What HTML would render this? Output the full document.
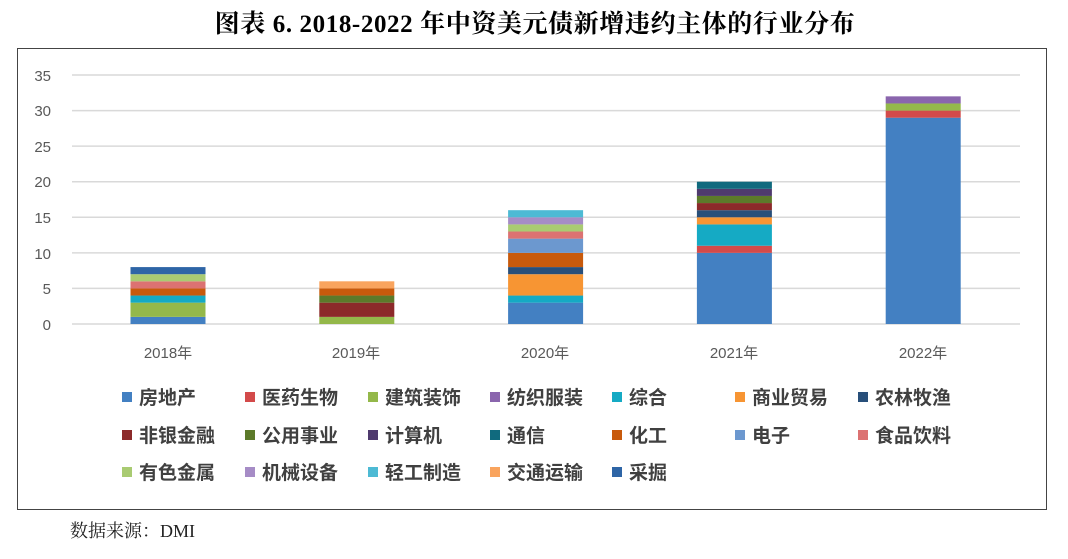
<!DOCTYPE html>
<html><head><meta charset="utf-8"><style>
body{margin:0;background:#fff;width:1068px;height:554px;overflow:hidden;font-family:"Liberation Serif","Noto Serif CJK SC",serif}
</style></head><body>
<svg width="1068" height="554" xmlns="http://www.w3.org/2000/svg">
<text x="535" y="32" text-anchor="middle" font-size="25" letter-spacing="0.6" font-weight="bold" font-family="Liberation Serif,Noto Serif CJK SC,serif">图表 6.  2018-2022 年中资美元债新增违约主体的行业分布</text>
<rect x="17.5" y="48.5" width="1029" height="461" fill="none" stroke="#444" stroke-width="1"/>
<g stroke="#d9d9d9" stroke-width="1.5">
<line x1="72" x2="1020" y1="324" y2="324"/><line x1="72" x2="1020" y1="288.4" y2="288.4"/><line x1="72" x2="1020" y1="252.9" y2="252.9"/><line x1="72" x2="1020" y1="217.3" y2="217.3"/><line x1="72" x2="1020" y1="181.7" y2="181.7"/><line x1="72" x2="1020" y1="146.1" y2="146.1"/><line x1="72" x2="1020" y1="110.6" y2="110.6"/><line x1="72" x2="1020" y1="75" y2="75"/>
</g>
<g font-family="Liberation Sans,sans-serif" font-size="15" fill="#595959" text-anchor="end">
<text x="51" y="330">0</text><text x="51" y="294">5</text><text x="51" y="259">10</text><text x="51" y="223">15</text><text x="51" y="187">20</text><text x="51" y="152">25</text><text x="51" y="116">30</text><text x="51" y="81">35</text>
</g>
<g id="bars"></g>
<g font-family="Liberation Sans,Noto Sans CJK SC,sans-serif" font-size="15" fill="#595959" text-anchor="middle">
<text x="168" y="358">2018年</text><text x="356" y="358">2019年</text><text x="545" y="358">2020年</text><text x="734" y="358">2021年</text><text x="923" y="358">2022年</text>
</g>
<g id="legend" font-family="Liberation Sans,Noto Sans CJK SC,sans-serif" font-size="19" font-weight="bold" fill="#404040"></g>
<text x="70" y="537" font-size="18" fill="#222" font-family="Liberation Serif,Noto Serif CJK SC,serif">数据来源：DMI</text>
</svg>
<script>
var C={"房地产":"#4380c2","医药生物":"#d34a4a","建筑装饰":"#94b84a","纺织服装":"#8a65ad","综合":"#15aac4","商业贸易":"#f79533","农林牧渔":"#284f7a","非银金融":"#8c2a2a","公用事业":"#5c7a2a","计算机":"#4f3a6e","通信":"#106a7e","化工":"#c85a0c","电子":"#6c98cf","食品饮料":"#dc7272","有色金属":"#a9cb72","机械设备":"#a68cc6","轻工制造":"#4dbad4","交通运输":"#f9a45e","采掘":"#2e65a6"};
var order=Object.keys(C);
var data=[
[["房地产",1],["建筑装饰",2],["综合",1],["化工",1],["食品饮料",1],["有色金属",1],["采掘",1]],
[["建筑装饰",1],["非银金融",2],["公用事业",1],["化工",1],["交通运输",1]],
[["房地产",3],["综合",1],["商业贸易",3],["农林牧渔",1],["化工",2],["电子",2],["食品饮料",1],["有色金属",1],["机械设备",1],["轻工制造",1]],
[["房地产",10],["医药生物",1],["综合",3],["商业贸易",1],["农林牧渔",1],["非银金融",1],["公用事业",1],["计算机",1],["通信",1]],
[["房地产",29],["医药生物",1],["建筑装饰",1],["纺织服装",1]]];
var ns="http://www.w3.org/2000/svg",g=document.getElementById("bars"),u=7.114;
data.forEach(function(b,i){var cx=168+i*188.8,v=0;b.forEach(function(s){var r=document.createElementNS(ns,"rect");r.setAttribute("x",cx-37.5);r.setAttribute("width",75);r.setAttribute("y",324-(v+s[1])*u);r.setAttribute("height",s[1]*u);r.setAttribute("fill",C[s[0]]);g.appendChild(r);v+=s[1];});});
var L=document.getElementById("legend"),xs=[122,245,368,490,612,735,858],ys=[397,435,472];
order.forEach(function(k,i){var x=xs[i%7],y=ys[Math.floor(i/7)];var r=document.createElementNS(ns,"rect");r.setAttribute("x",x);r.setAttribute("y",y-5);r.setAttribute("width",10);r.setAttribute("height",10);r.setAttribute("fill",C[k]);L.appendChild(r);var t=document.createElementNS(ns,"text");t.setAttribute("x",x+17);t.setAttribute("y",y+7);t.textContent=k;L.appendChild(t);});
</script>
</body></html>
